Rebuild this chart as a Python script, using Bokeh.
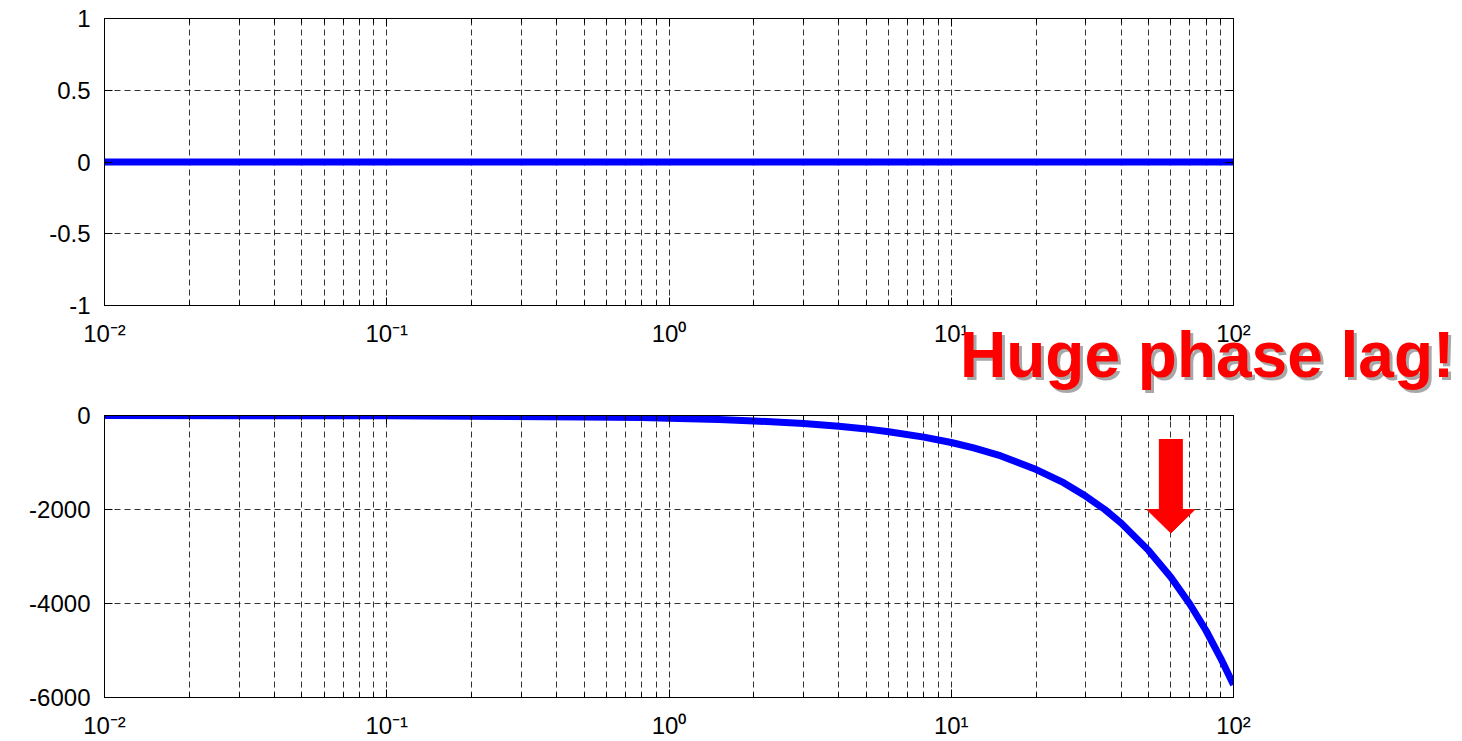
from bokeh.plotting import figure
from bokeh.layouts import column
from bokeh.models import FixedTicker, LogAxis, LinearAxis, Range1d, Div
from bokeh.embed import file_html
from bokeh.resources import INLINE

# ---------------- data ----------------
freq_mag = [0.01, 0.1, 1, 10, 100]
mag = [0, 0, 0, 0, 0]

freq_phase = [0.01, 0.1, 0.5, 0.8, 1, 1.5, 2, 3, 4, 5, 6, 8, 10, 12, 15,
              20, 25, 30, 35, 40, 50, 60, 70, 80, 90, 100]
phase = [0, -6, -30, -45, -57, -85, -115, -170, -230, -285, -345, -460, -575,
         -690, -860, -1150, -1430, -1720, -2000, -2290, -2870, -3440, -4010,
         -4580, -5160, -5730]

x_major = [0.01, 0.1, 1, 10, 100]
x_labels = ["10\u207b\u00b2", "10\u207b\u00b9", "10\u2070", "10\u00b9", "10\u00b2"]
minor_mult = [2, 3, 4, 5, 6, 7, 8, 9]

top_yticks = [-1, -0.5, 0, 0.5, 1]
top_ylabels = ["-1", "-0.5", "0", "0.5", "1"]
bot_yticks = [-6000, -4000, -2000, 0]
bot_ylabels = ["-6000", "-4000", "-2000", "0"]

note_text = "Huge phase lag!"
arrow_x = 60
arrow_top, arrow_base, arrow_tip = -500, -2000, -2500

# ---------------- styling ----------------
FONT = "Liberation Sans"
BLUE = "#0000FF"
W = 1462
x_minor = [m * d for d in x_major[:-1] for m in minor_mult]


def style(p, yticks, ylabels):
    xt = FixedTicker(ticks=x_major, minor_ticks=x_minor)
    yt = FixedTicker(ticks=yticks, minor_ticks=[])
    p.xaxis.ticker = xt
    p.yaxis.ticker = yt
    p.xaxis.major_label_overrides = dict(zip(x_major, x_labels))
    p.yaxis.major_label_overrides = dict(zip(yticks, ylabels))
    for ax in [p.xaxis[0], p.yaxis[0]]:
        ax.major_label_text_font = FONT
        ax.major_label_text_font_size = "24px"
        ax.major_label_text_color = "black"
        ax.axis_line_color = "black"
        ax.major_tick_in = 8
        ax.major_tick_out = 0
        ax.minor_tick_in = 5
        ax.minor_tick_out = 0
        ax.major_tick_line_color = "black"
        ax.minor_tick_line_color = "black"
    p.xaxis.major_label_standoff = 14
    p.yaxis.major_label_standoff = 14
    # mirror axes (ticks only, no labels)
    top_ax = LogAxis(ticker=xt, major_label_overrides={v: "" for v in x_major},
                     major_label_standoff=0, major_tick_in=8, major_tick_out=0,
                     minor_tick_in=5, minor_tick_out=0, axis_line_color="black")
    right_ax = LinearAxis(ticker=yt, major_label_overrides={v: "" for v in yticks},
                          major_label_standoff=0, major_tick_in=8, major_tick_out=0,
                          minor_tick_in=0, minor_tick_out=0, axis_line_color="black")
    p.add_layout(top_ax, "above")
    p.add_layout(right_ax, "right")
    p.xgrid.ticker = xt
    p.ygrid.ticker = yt
    for g in [p.xgrid[0], p.ygrid[0]]:
        g.grid_line_color = "black"
        g.grid_line_alpha = 0.8
        g.grid_line_dash = "6 4"
        g.grid_line_width = 1
    p.xgrid.minor_grid_line_color = "black"
    p.xgrid.minor_grid_line_alpha = 0.8
    p.xgrid.minor_grid_line_dash = "6 4"
    p.outline_line_color = "black"
    p.outline_line_alpha = 1
    p.background_fill_color = "white"
    p.border_fill_color = "white"


top = figure(width=W, height=400, x_axis_type="log",
             x_range=Range1d(0.01, 100), y_range=Range1d(-1, 1),
             output_backend="svg", toolbar_location=None,
             min_border_left=104, min_border_right=W - 1233,
             min_border_top=18, min_border_bottom=95)
style(top, top_yticks, top_ylabels)
top.line(freq_mag, mag, line_color=BLUE, line_width=7)

note_html = (
    '<span style="position:absolute; left:960px; top:-77px; white-space:nowrap;'
    ' font-family:\'Liberation Sans\', Arial, sans-serif; font-weight:bold;'
    ' font-size:64px; line-height:64px; color:#FF0000;'
    ' text-shadow:3px 3px 0 #A8A8A8;">' + note_text + '</span>'
)
note = Div(text=note_html, width=W, height=0, margin=0,
           styles={"overflow": "visible", "position": "relative", "z-index": "10"})

bot = figure(width=W, height=341, x_axis_type="log",
             x_range=Range1d(0.01, 100), y_range=Range1d(-6000, 0),
             output_backend="svg", toolbar_location=None,
             min_border_left=104, min_border_right=W - 1233,
             min_border_top=15, min_border_bottom=44)
style(bot, bot_yticks, bot_ylabels)
bot.line(freq_phase, phase, line_color=BLUE, line_width=7, line_join="round")

# arrow: shaft + head
half = 10 ** (24 / 282.25)
bot.segment(x0=[arrow_x], y0=[arrow_top], x1=[arrow_x], y1=[arrow_base],
            line_color="#FF0000", line_width=24, line_cap="butt")
bot.patch(x=[arrow_x / half, arrow_x * half, arrow_x],
          y=[arrow_base, arrow_base, arrow_tip],
          fill_color="#FF0000", line_color="#FF0000")

layout = column(top, note, bot, spacing=0)
open("out.html", "w").write(file_html(layout, INLINE))
